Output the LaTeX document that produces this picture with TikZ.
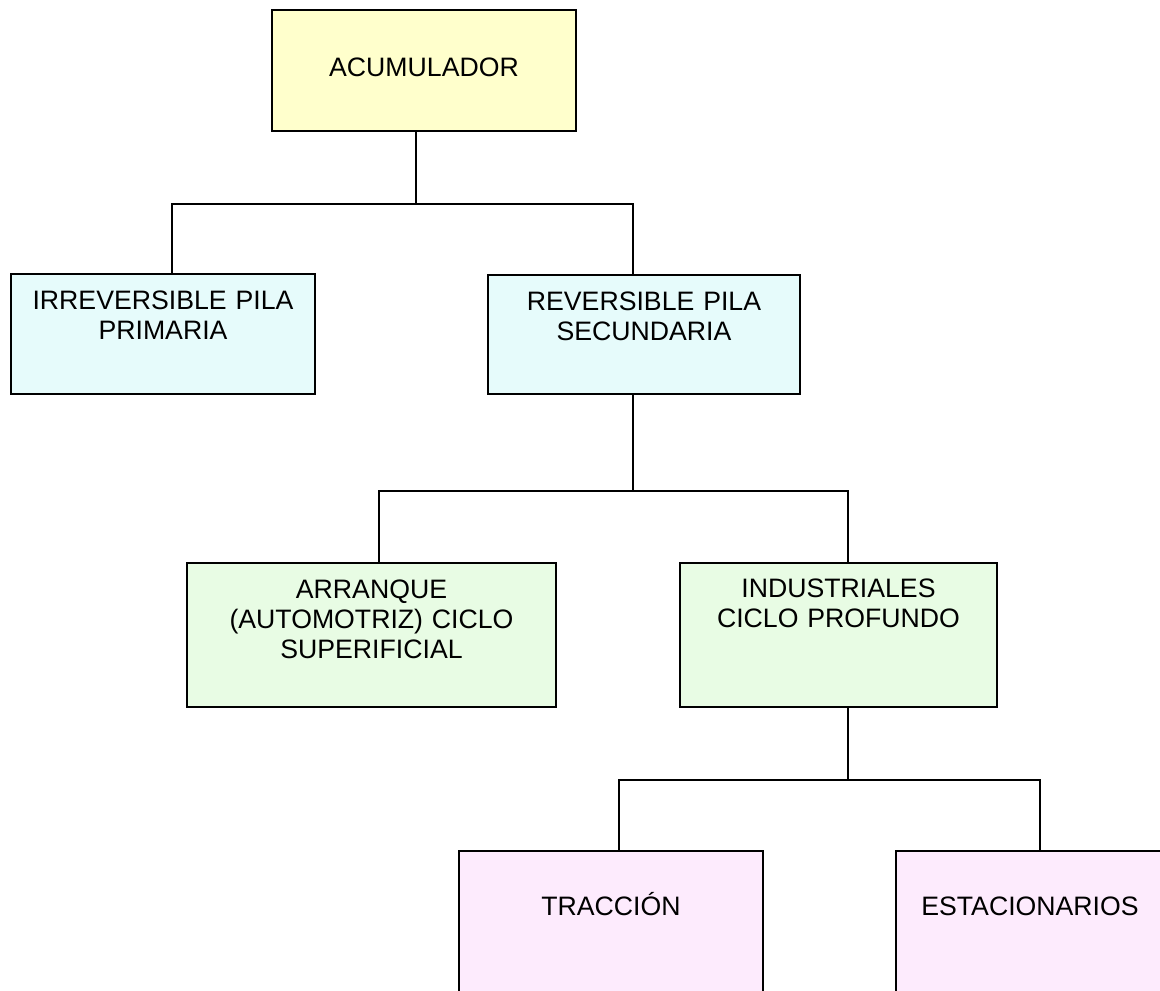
\documentclass[tikz,border=0pt]{standalone}
\usepackage{fontspec}
\setmainfont{Liberation Sans}
\definecolor{yelfill}{HTML}{FFFFCC}
\definecolor{cyanfill}{HTML}{E6FBFB}
\definecolor{grnfill}{HTML}{E8FCE4}
\definecolor{pnkfill}{HTML}{FDEBFD}
\newcommand{\topstrut}{\rule{0pt}{20pt}}
\begin{document}
\begin{tikzpicture}[x=0.75pt,y=-0.75pt,
  box/.style={draw=black, line width=1.5pt, inner sep=0pt, anchor=north west},
  lbl/.style={anchor=north, inner sep=0pt, align=center, font=\fontsize{20}{22.5}\selectfont},
  conn/.style={line width=1.5pt, draw=black}]
\clip (0,0) rectangle (1160,991);
\fill[white] (0,0) rectangle (1160,991);

% boxes
\node[box, fill=yelfill, minimum width=228pt, minimum height=90.75pt] (acc) at (271,9) {};
\node[box, fill=cyanfill, minimum width=228pt, minimum height=90pt] (irr) at (10,273) {};
\node[box, fill=cyanfill, minimum width=234pt, minimum height=89.25pt] (rev) at (487,274) {};
\node[box, fill=grnfill, minimum width=276.75pt, minimum height=108pt] (arr) at (186,562) {};
\node[box, fill=grnfill, minimum width=237.75pt, minimum height=108pt] (ind) at (679,562) {};
\node[box, fill=pnkfill, minimum width=228pt, minimum height=120pt] (tra) at (458,850) {};
\node[box, fill=pnkfill, minimum width=201pt, minimum height=120pt] (est) at (895,850) {};

% texts
\node[lbl, text width=228pt] (acc-t) at ([yshift=-30.25pt]acc.north) {\topstrut ACUMULADOR};
\node[lbl, text width=228pt] (irr-t) at ([yshift=-7pt]irr.north) {\topstrut IRREVERSIBLE PILA\\PRIMARIA};
\node[lbl, text width=234pt] (rev-t) at ([yshift=-7pt]rev.north) {\topstrut REVERSIBLE PILA\\SECUNDARIA};
\node[lbl, text width=276.75pt] (arr-t) at ([yshift=-7pt]arr.north) {\topstrut ARRANQUE\\(AUTOMOTRIZ) CICLO\\SUPERIFICIAL};
\node[lbl, text width=237.75pt] (ind-t) at ([yshift=-6.25pt]ind.north) {\topstrut INDUSTRIALES\\CICLO PROFUNDO};
\node[lbl, text width=228pt] (tra-t) at ([yshift=-28.75pt]tra.north) {\topstrut TRACCIÓN};
\node[lbl, text width=201pt] (est-t) at ([yshift=-28.75pt]est.north) {\topstrut ESTACIONARIOS};

% connectors
\draw[conn] ([xshift=-6pt]acc.south) -- ++(0,72) coordinate (j1);
\draw[conn] ([xshift=6.75pt]irr.north) |- (j1) -| ([xshift=-8.25pt]rev.north);
\draw[conn] ([xshift=-8.25pt]rev.south) -- ++(0,96) coordinate (j2);
\draw[conn] ([xshift=5.625pt]arr.north) |- (j2) -| ([xshift=7.125pt]ind.north);
\draw[conn] ([xshift=7.125pt]ind.south) -- ++(0,72) coordinate (j3);
\draw[conn] ([xshift=6pt]tra.north) |- (j3) -| ([xshift=7.5pt]est.north);
\end{tikzpicture}
\end{document}
